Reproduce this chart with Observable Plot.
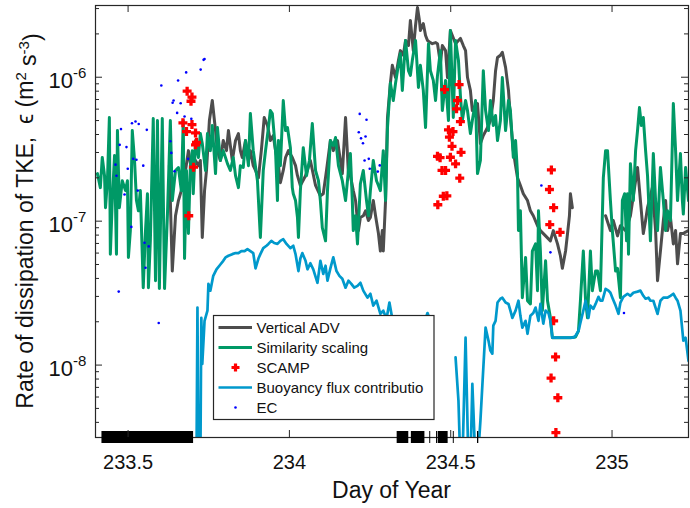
<!DOCTYPE html>
<html>
<head>
<meta charset="utf-8">
<script src="https://cdn.jsdelivr.net/npm/d3@7"></script>
<script src="https://cdn.jsdelivr.net/npm/@observablehq/plot@0.6"></script>
<style>
  html, body { margin: 0; padding: 0; background: #fff; }
  #chart svg { display: block; }
</style>
</head>
<body>
<div id="chart"></div>
<script>
// Dissipation rate of TKE, epsilon (m^2 s^-3), against day of year.
// Each series is a list of [day, epsilon]; null marks a gap in a line.

const verticalADV = [
  [233.628,2.43e-7],[233.637,4.5e-8],[233.647,1.09e-7],[233.656,1.39e-7],[233.665,1.63e-7],[233.678,2.25e-7],
  [233.687,3.09e-7],[233.699,2.07e-7],[233.709,2.64e-7],[233.718,2.43e-7],[233.724,2.64e-7],[233.730,7.7e-8],
  [233.737,1.63e-7],[233.743,2.25e-7],[233.752,5.0e-7],[233.761,6.89e-7],[233.771,4.26e-7],[233.777,3.09e-7],
  [233.786,2.64e-7],[233.795,3.63e-7],[233.805,3.09e-7],[233.811,4.26e-7],[233.817,3.35e-7],[233.823,2.64e-7],
  [233.833,3.63e-7],[233.842,4.06e-7],[233.848,3.09e-7],[233.854,2.77e-7],[233.864,3.63e-7],[233.873,2.64e-7],
  [233.879,3.09e-7],[233.888,2.43e-7],[233.895,2.25e-7],[233.904,2.0e-7],[233.913,3.09e-7],[233.922,5.25e-7],
  [233.932,4.62e-7],[233.941,3.63e-7],[233.950,3.93e-7],[233.957,3.09e-7],[233.966,2.43e-7],[233.972,1.85e-7],
  [233.981,2.25e-7],[233.988,2.77e-7],[233.997,3.09e-7],[234.009,2.77e-7],[234.019,2.43e-7],[234.025,2.07e-7],
  [234.034,1.77e-7],[234.050,2.07e-7],[234.065,2.64e-7],[234.081,1.77e-7],[234.096,1.50e-7],[234.105,1.55e-7],
  [234.115,2.25e-7],[234.127,3.63e-7],[234.136,3.09e-7],[234.149,3.63e-7],[234.158,2.64e-7],[234.164,2.14e-7],
  [234.174,5.25e-7],[234.183,2.14e-7],[234.189,2.07e-7],[234.198,1.63e-7],[234.205,1.39e-7],[234.214,8.6e-8],
  [234.220,1.06e-7],[234.229,1.09e-7],[234.236,1.18e-7],[234.245,1.01e-7],[234.251,1.06e-7],[234.260,1.39e-7],
  [234.267,1.09e-7],[234.276,8.2e-8],[234.282,6.2e-8],[234.288,8.6e-8],[234.291,6.2e-8],[234.298,1.39e-7],
  [234.304,5.25e-7],[234.313,9.1e-7],[234.319,1.21e-6],[234.329,9.95e-7],[234.338,1.31e-6],[234.344,1.53e-6],
  [234.353,1.42e-6],[234.360,1.80e-6],[234.369,1.66e-6],[234.375,2.48e-6],[234.384,1.53e-6],[234.391,2.29e-6],
  [234.397,3.05e-6],[234.403,2.48e-6],[234.406,2.11e-6],[234.415,2.36e-6],[234.422,1.95e-6],[234.428,1.80e-6],
  [234.437,1.74e-6],[234.443,1.71e-6],[234.453,1.74e-6],[234.459,1.71e-6],[234.468,1.25e-6],[234.474,1.66e-6],
  [234.484,1.53e-6],[234.490,9.95e-7],[234.499,2.11e-6],[234.505,1.95e-6],[234.515,1.71e-6],[234.524,1.80e-6],
  [234.530,1.86e-6],[234.539,1.66e-6],[234.546,1.53e-6],[234.552,9.95e-7],[234.561,8.1e-7],[234.567,5.87e-7],
  [234.577,6.36e-7],[234.583,6.57e-7],[234.592,3.46e-7],[234.601,3.93e-7],[234.614,4.47e-7],[234.623,5.0e-7],
  [234.632,6.89e-7],[234.639,1.11e-6],[234.645,1.37e-6],[234.654,1.42e-6],[234.660,1.49e-6],[234.670,1.17e-6],
  [234.679,8.1e-7],[234.685,5.25e-7],[234.694,3.09e-7],[234.701,2.43e-7],[234.707,2.0e-7],[234.716,1.77e-7],
  [234.725,1.55e-7],[234.738,1.39e-7],[234.747,1.18e-7],[234.756,1.09e-7],[234.769,9.3e-8],[234.778,8.6e-8],
  [234.794,7.9e-8],[234.809,7.3e-8],[234.818,8.6e-8],[234.831,6.95e-8],[234.840,5.75e-8],[234.846,4.7e-8],
  [234.856,6.2e-8],[234.862,8.2e-8],[234.868,1.09e-7],[234.871,1.55e-7],[234.877,1.24e-7],[234.880,null],
  [234.980,1.09e-7],[234.995,8.6e-8],[235.004,1.01e-7],[235.017,7.9e-8],[235.026,9.3e-8],[235.042,8.6e-8],
  [235.057,1.09e-7],[235.073,1.91e-7],[235.079,2.36e-7],[235.088,1.39e-7],[235.097,8.2e-8],[235.104,1.01e-7],
  [235.110,1.24e-7],[235.119,1.50e-7],[235.125,1.71e-7],[235.135,8.6e-8],[235.141,3.86e-8],[235.150,6.2e-8],
  [235.159,1.01e-7],[235.166,1.39e-7],[235.172,8.6e-8],[235.181,1.06e-7],[235.190,6.95e-8],[235.197,8.6e-8],
  [235.203,5.05e-8],[235.212,8.2e-8],[235.221,8.2e-8],[235.228,8.4e-8],[235.237,8.6e-8]
];

const similarityScaling = [
  [233.405,2.14e-7],[233.414,1.71e-7],[233.420,2.77e-7],[233.427,2.07e-7],[233.430,1.24e-7],[233.436,1.91e-7],
  [233.442,5.25e-7],[233.445,5.9e-8],[233.451,1.39e-7],[233.458,2.86e-7],[233.464,5.9e-8],[233.467,4.26e-7],
  [233.473,1.24e-7],[233.482,1.91e-7],[233.492,1.63e-7],[233.498,1.91e-7],[233.501,5.6e-8],[233.507,8.6e-8],
  [233.513,4.26e-7],[233.520,2.64e-7],[233.526,1.39e-7],[233.532,1.18e-7],[233.538,1.63e-7],[233.547,3.45e-8],
  [233.554,8.6e-8],[233.560,1.55e-7],[233.563,3.45e-8],[233.569,7.3e-8],[233.578,5.17e-7],[233.585,3.86e-8],
  [233.591,5.0e-7],[233.597,3.4e-8],[233.606,5.17e-7],[233.613,3.4e-8],[233.622,1.12e-7],[233.631,5.0e-7],
  [233.637,1.39e-7],[233.647,2.25e-7],[233.656,2.36e-7],[233.665,1.63e-7],[233.671,5.0e-7],[233.675,5.5e-8],
  [233.681,2.25e-7],[233.687,8.2e-8],[233.693,2.43e-7],[233.699,3.09e-7],[233.702,1.55e-7],[233.709,3.63e-7],
  [233.718,2.77e-7],[233.724,4.06e-7],[233.730,3.46e-7],[233.740,2.25e-7],[233.746,4.06e-7],[233.755,3.09e-7],
  [233.761,4.62e-7],[233.771,2.14e-7],[233.777,4.47e-7],[233.786,2.64e-7],[233.795,3.09e-7],[233.808,2.51e-7],
  [233.817,2.25e-7],[233.826,2.77e-7],[233.833,2.07e-7],[233.842,1.71e-7],[233.848,2.43e-7],[233.857,2.36e-7],
  [233.864,3.63e-7],[233.873,2.43e-7],[233.879,5.6e-7],[233.888,3.09e-7],[233.901,1.91e-7],[233.910,7.7e-8],
  [233.919,2.25e-7],[233.926,3.09e-7],[233.935,4.47e-7],[233.941,5.87e-7],[233.947,5.6e-7],[233.957,3.09e-7],
  [233.963,1.39e-7],[233.966,3.63e-7],[233.972,2.43e-7],[233.981,6.89e-7],[233.988,4.26e-7],[233.994,4.47e-7],
  [234.003,3.24e-7],[234.009,1.71e-7],[234.012,1.55e-7],[234.019,1.39e-7],[234.025,1.06e-7],[234.028,7.7e-8],
  [234.034,1.63e-7],[234.043,3.24e-7],[234.053,2.07e-7],[234.062,2.64e-7],[234.071,4.77e-7],[234.081,2.25e-7],
  [234.090,1.91e-7],[234.096,1.39e-7],[234.102,9.0e-8],[234.112,7.3e-8],[234.118,1.63e-7],[234.127,3.63e-7],
  [234.136,3.35e-7],[234.143,3.81e-7],[234.152,2.43e-7],[234.164,1.91e-7],[234.174,1.39e-7],[234.183,2.25e-7],
  [234.189,2.95e-7],[234.195,1.39e-7],[234.198,8.6e-8],[234.205,1.09e-7],[234.211,6.95e-8],[234.220,1.82e-7],
  [234.229,2.25e-7],[234.239,1.39e-7],[234.245,1.09e-7],[234.251,1.63e-7],[234.260,2.64e-7],[234.270,1.91e-7],
  [234.276,1.77e-7],[234.282,1.63e-7],[234.291,3.09e-7],[234.298,1.39e-7],[234.304,4.47e-7],[234.313,9.1e-7],
  [234.322,6.89e-7],[234.329,9.1e-7],[234.335,1.11e-6],[234.344,1.46e-6],[234.350,8.1e-7],[234.360,1.80e-6],
  [234.369,1.11e-6],[234.375,1.03e-6],[234.381,1.31e-6],[234.391,1.80e-6],[234.400,8.5e-7],[234.406,1.21e-6],
  [234.415,8.1e-7],[234.422,4.47e-7],[234.431,1.71e-6],[234.437,1.11e-6],[234.446,9.5e-7],[234.453,6.89e-7],
  [234.459,1.03e-6],[234.468,1.53e-6],[234.474,5.87e-7],[234.484,9.5e-7],[234.493,5.0e-7],[234.499,2.11e-6],
  [234.508,5.25e-7],[234.515,1.80e-6],[234.524,1.31e-6],[234.530,7.46e-7],[234.536,5.0e-7],[234.546,6.89e-7],
  [234.552,5.87e-7],[234.561,4.06e-7],[234.567,5.0e-7],[234.577,6.89e-7],[234.583,2.14e-7],[234.592,2.64e-7],
  [234.601,1.11e-6],[234.608,5.87e-7],[234.617,4.26e-7],[234.623,6.89e-7],[234.632,4.62e-7],[234.639,5.42e-7],
  [234.645,3.63e-7],[234.654,5.0e-7],[234.660,9.95e-7],[234.670,4.26e-7],[234.679,6.89e-7],[234.685,5.87e-7],
  [234.694,2.77e-7],[234.701,3.63e-7],[234.707,2.14e-7],[234.710,8.6e-8],[234.716,1.18e-7],[234.722,2.94e-8],
  [234.732,5.6e-8],[234.738,2.8e-8],[234.747,2.66e-8],[234.753,6.2e-8],[234.763,6.95e-8],[234.769,3.29e-8],
  [234.772,1.18e-7],[234.778,6.2e-8],[234.784,2.39e-8],[234.794,5.3e-8],[234.800,2.8e-8],[234.809,2.13e-8],
  [234.815,1.55e-8],[234.825,1.55e-8],[234.840,1.55e-8],[234.856,1.55e-8],[234.871,1.55e-8],[234.887,1.57e-8],
  [234.896,1.73e-8],[234.902,2.8e-8],[234.911,6.2e-8],[234.918,2.8e-8],[234.924,2.13e-8],[234.933,6.2e-8],
  [234.939,3.29e-8],[234.949,4.5e-8],[234.955,4.5e-8],[234.964,3.29e-8],[234.973,2.0e-7],[234.980,3.09e-7],
  [234.986,3.09e-7],[234.995,1.39e-7],[235.001,8.6e-8],[235.011,4.5e-8],[235.017,4.7e-8],[235.026,2.94e-8],
  [235.032,1.39e-7],[235.039,1.55e-7],[235.045,7.3e-8],[235.048,1.55e-7],[235.051,5.9e-8],[235.057,2.51e-7],
  [235.066,1.39e-7],[235.073,3.09e-7],[235.079,4.26e-7],[235.085,6.15e-7],[235.091,4.62e-7],[235.097,5.25e-7],
  [235.104,3.09e-7],[235.110,2.07e-7],[235.119,7.3e-8],[235.128,2.95e-7],[235.135,1.39e-7],[235.141,8.6e-8],
  [235.150,2.36e-7],[235.159,1.39e-7],[235.166,8.6e-8],[235.172,1.18e-7],[235.181,1.01e-7],[235.190,6.57e-7],
  [235.197,3.09e-7],[235.203,1.39e-7],[235.212,2.95e-7],[235.218,1.39e-7],[235.221,1.12e-7],[235.228,2.36e-7],
  [235.237,1.39e-7]
];

const scamp = [
  [233.683,8.0e-7],[233.698,7.28e-7],[233.695,6.81e-7],[233.670,4.82e-7],[233.698,4.69e-7],[233.681,4.19e-7],
  [233.709,4.10e-7],[233.712,3.53e-7],[233.709,3.39e-7],[233.703,2.37e-7],[233.688,1.09e-7],
  [234.481,8.21e-7],[234.526,8.89e-7],[234.521,6.89e-7],[234.518,6.03e-7],[234.530,4.92e-7],[234.493,4.31e-7],
  [234.507,4.19e-7],[234.496,3.83e-7],[234.504,3.31e-7],[234.532,3.01e-7],[234.459,2.82e-7],[234.467,2.76e-7],
  [234.499,2.78e-7],[234.515,2.50e-7],[234.473,2.25e-7],[234.484,2.25e-7],[234.528,1.99e-7],[234.488,1.50e-7],
  [234.477,1.49e-7],[234.460,1.30e-7],
  [234.812,2.27e-7],[234.806,1.66e-7],[234.819,1.24e-7],[234.807,9.46e-8],[234.839,8.36e-8],[234.819,2.03e-8],
  [234.825,1.14e-8],[234.811,8.13e-9],[234.832,5.93e-9],[234.826,3.40e-9]
];

const buoyancyFlux = [
  [233.712,2e-9],[233.715,2.51e-8],[233.718,2e-9],[233.724,2e-9],[233.727,2.13e-8],[233.730,1.02e-8],
  [233.737,2.03e-8],[233.746,2.39e-8],[233.749,3.67e-8],[233.755,3.29e-8],[233.764,4.17e-8],[233.774,4.63e-8],
  [233.786,5.0e-8],[233.795,5.3e-8],[233.802,5.6e-8],[233.811,5.75e-8],[233.823,5.9e-8],[233.833,6.0e-8],
  [233.842,6.0e-8],[233.851,6.2e-8],[233.861,6.2e-8],[233.870,6.4e-8],[233.879,6.2e-8],[233.888,6.0e-8],
  [233.895,4.7e-8],[233.904,5.5e-8],[233.910,5.9e-8],[233.919,6.5e-8],[233.929,6.75e-8],[233.935,6.95e-8],
  [233.944,7.3e-8],[233.953,7.05e-8],[233.963,6.95e-8],[233.972,7.3e-8],[233.981,7.5e-8],[233.991,6.95e-8],
  [234.003,6.5e-8],[234.012,6.75e-8],[234.019,5.9e-8],[234.028,4.5e-8],[234.034,5.5e-8],[234.040,6.0e-8],
  [234.050,5.3e-8],[234.056,4.63e-8],[234.065,5.1e-8],[234.074,4.63e-8],[234.087,3.73e-8],[234.096,5.3e-8],
  [234.105,4.3e-8],[234.112,4.9e-8],[234.118,3.86e-8],[234.127,4.7e-8],[234.136,5.6e-8],[234.146,4.5e-8],
  [234.155,4.17e-8],[234.164,3.98e-8],[234.174,3.45e-8],[234.183,3.86e-8],[234.192,3.67e-8],[234.201,3.45e-8],
  [234.211,3.55e-8],[234.220,3.73e-8],[234.229,3.29e-8],[234.242,2.94e-8],[234.251,3.13e-8],[234.260,2.59e-8],
  [234.270,2.8e-8],[234.282,2.27e-8],[234.291,2.39e-8],[234.301,2.1e-8],[234.310,2.72e-8],[234.319,2.1e-8],
  [234.329,1.97e-8],[234.344,1.88e-8],[234.360,1.73e-8],[234.375,1.78e-8],[234.391,1.88e-8],[234.406,1.97e-8],
  [234.422,2.1e-8],[234.428,2.3e-8],[234.437,2.03e-8],[234.446,null],
  [234.515,1.13e-8],[234.524,5.65e-9],[234.530,2e-9],[234.536,2e-9],[234.546,1.55e-8],[234.555,2e-9],
  [234.561,2e-9],[234.567,7.4e-9],[234.577,2e-9],[234.583,2e-9],[234.592,4.1e-9],[234.598,7.2e-9],
  [234.608,1.82e-8],[234.617,1.48e-8],[234.623,1.26e-8],[234.629,1.2e-8],[234.632,1.88e-8],[234.639,2.03e-8],
  [234.645,2.72e-8],[234.654,2.89e-8],[234.660,2.94e-8],[234.670,2.72e-8],[234.679,2.66e-8],[234.685,2.39e-8],
  [234.691,2.13e-8],[234.701,2.39e-8],[234.710,2.8e-8],[234.716,2.2e-8],[234.722,1.82e-8],[234.732,2.03e-8],
  [234.738,1.65e-8],[234.747,2.2e-8],[234.756,2.3e-8],[234.763,2.51e-8],[234.772,2.03e-8],[234.778,2.66e-8],
  [234.787,1.94e-8],[234.794,2.39e-8],[234.803,2.3e-8],[234.809,2.03e-8],[234.815,1.55e-8],[234.825,1.55e-8],
  [234.840,1.55e-8],[234.856,1.55e-8],[234.871,1.55e-8],[234.880,1.55e-8],[234.887,1.6e-8],[234.896,1.73e-8],
  [234.902,1.97e-8],[234.911,2.39e-8],[234.918,2.8e-8],[234.927,2.13e-8],[234.933,2.59e-8],[234.942,2.46e-8],
  [234.949,2.66e-8],[234.958,2.98e-8],[234.964,2.8e-8],[234.970,2.8e-8],[234.980,3.39e-8],[234.989,3.29e-8],
  [234.995,3.18e-8],[235.001,2.94e-8],[235.011,2.59e-8],[235.020,2.27e-8],[235.026,2.72e-8],[235.035,2.98e-8],
  [235.048,3.13e-8],[235.057,3.03e-8],[235.066,3.18e-8],[235.079,3.24e-8],[235.088,3.29e-8],[235.097,3.03e-8],
  [235.104,2.89e-8],[235.113,2.94e-8],[235.119,2.8e-8],[235.128,2.8e-8],[235.141,2.27e-8],[235.150,2.8e-8],
  [235.159,2.94e-8],[235.172,2.94e-8],[235.181,3.03e-8],[235.190,3.13e-8],[235.197,2.94e-8],[235.203,2.8e-8],
  [235.212,2.39e-8],[235.221,1.48e-8],[235.228,1.55e-8],[235.237,1.07e-8]
];

const eddyCovariance = [
  [233.737,1.34e-6],[233.734,1.32e-6],[233.725,1.13e-6],[233.680,1.08e-6],[233.655,9.48e-7],[233.603,8.75e-7],
  [233.641,6.89e-7],[233.638,6.64e-7],[233.663,6.59e-7],[233.652,5.65e-7],[233.675,5.33e-7],[233.696,5.14e-7],
  [233.523,4.92e-7],[233.512,4.79e-7],[233.533,4.73e-7],[233.478,4.36e-7],[233.558,4.31e-7],[233.631,3.59e-7],
  [233.474,3.39e-7],[233.495,3.27e-7],[233.634,2.98e-7],[233.516,2.71e-7],[233.526,2.67e-7],[233.686,2.71e-7],
  [233.461,2.47e-7],[233.547,2.43e-7],[233.499,2.31e-7],[233.644,2.22e-7],[233.464,2.07e-7],[233.530,1.63e-7],
  [233.489,1.53e-7],[233.510,9.12e-8],[233.551,7.08e-8],[233.564,6.68e-8],[233.554,4.75e-8],[233.471,3.24e-8],
  [233.595,1.96e-8],
  [234.218,5.56e-7],[234.239,5.06e-7],[234.215,4.15e-7],[234.236,3.87e-7],[234.222,3.76e-7],[234.228,3.48e-7],
  [234.233,2.64e-7],[234.246,2.71e-7],[234.249,2.31e-7],[234.280,2.44e-7],[234.274,2.21e-7],
  [234.781,1.77e-7],[234.809,6.07e-8],[235.037,2.30e-8]
];

// Black bars along the time axis (start and end day of each).
const barStart = [233.419, 234.334, 234.378, 234.435, 234.456, 234.461, 234.508, 234.583];
const barEnd   = [233.703, 234.370, 234.420, 234.438, 234.459, 234.492, 234.511, 234.587];

const seriesNames = ["Vertical ADV", "Similarity scaling", "SCAMP", "Buoyancy flux contributio", "EC"];
const xTicks = [233.5, 234, 234.5, 235];
const yMajorTicks = [1e-8, 1e-7, 1e-6];

const xDomain = [233.399, 235.237];
const yDomain = [3.14e-9, 3.15e-6];

const W = 690, H = 508;
const M = {left: 95, right: 2, top: 5, bottom: 71};
const frameW = W - M.left - M.right, frameH = H - M.top - M.bottom;
const FONT = "'Liberation Sans', Arial, Helvetica, sans-serif";
const INK = "#262626";
const C = {adv: "#4d4d4d", sim: "#009966", scamp: "#ff0000", buoy: "#0099cc", ec: "#0000ff"};

const yMinorTicks = [];
for (let e = -9; e <= -6; e++) for (let m = 2; m <= 9; m++) {
  const v = m * Math.pow(10, e);
  if (v >= yDomain[0] && v <= yDomain[1]) yMinorTicks.push(v);
}

const rows = (list) => list.map(([day, eps]) => ({day, eps}));
const bars = barStart.map((s, i) => ({start: s, end: barEnd[i]}));

const chart = Plot.plot({
  width: W, height: H,
  marginLeft: M.left, marginRight: M.right, marginTop: M.top, marginBottom: M.bottom,
  style: {fontFamily: FONT, background: "#fff", color: INK},
  x: {domain: xDomain, axis: null},
  y: {type: "log", domain: yDomain, axis: null},
  marks: [
    Plot.line(rows(verticalADV), {x: "day", y: "eps", stroke: C.adv, strokeWidth: 3, strokeLinejoin: "round", clip: true}),
    Plot.line(rows(similarityScaling), {x: "day", y: "eps", stroke: C.sim, strokeWidth: 3, strokeLinejoin: "round", clip: true}),
    Plot.dot(rows(scamp), {x: "day", y: "eps", symbol: "plus", r: 3, stroke: C.scamp, strokeWidth: 3.3, clip: true}),
    Plot.line(rows(buoyancyFlux), {x: "day", y: "eps", stroke: C.buoy, strokeWidth: 2.7, strokeLinejoin: "round", clip: true}),
    Plot.dot(rows(eddyCovariance), {x: "day", y: "eps", r: 1.3, fill: C.ec, stroke: null, clip: true}),

    Plot.frame({stroke: INK, strokeWidth: 1.2}),
    Plot.rect(bars, {x1: "start", x2: "end", fill: "#000", insetTop: frameH - 6, insetBottom: -6}),

    // inward ticks on all four sides
    Plot.tickX(xTicks, {x: d => d, stroke: INK, insetTop: frameH - 7}),
    Plot.tickX(xTicks, {x: d => d, stroke: INK, insetBottom: frameH - 7}),
    Plot.tickY(yMajorTicks, {y: d => d, stroke: INK, insetRight: frameW - 7}),
    Plot.tickY(yMajorTicks, {y: d => d, stroke: INK, insetLeft: frameW - 7}),
    Plot.tickY(yMinorTicks, {y: d => d, stroke: INK, insetRight: frameW - 4}),
    Plot.tickY(yMinorTicks, {y: d => d, stroke: INK, insetLeft: frameW - 4}),

    // tick labels
    Plot.text(xTicks, {x: d => d, frameAnchor: "bottom", text: d => String(d), lineAnchor: "bottom",
      dy: 31, fontSize: 20, fill: "#111"}),
    Plot.text(yMajorTicks, {y: d => d, frameAnchor: "left", text: () => "10", textAnchor: "end",
      lineAnchor: "bottom", dx: -22.5, dy: 11, fontSize: 22, fill: "#111"}),
    Plot.text(yMajorTicks, {y: d => d, frameAnchor: "left", text: d => String(Math.round(Math.log10(d))),
      textAnchor: "start", lineAnchor: "bottom", dx: -22.5, dy: 1, fontSize: 15, fill: "#111"})
  ]
});

document.getElementById("chart").appendChild(chart);

// Axis titles and legend
const svg = d3.select(chart);

svg.append("text")
  .attr("x", M.left + frameW / 2).attr("y", 498)
  .attr("text-anchor", "middle")
  .attr("font-family", FONT).attr("font-size", 23).attr("fill", "#111")
  .text("Day of Year");

const yl = svg.append("text")
  .attr("transform", `translate(32.5,${M.top + frameH / 2}) rotate(-90)`)
  .attr("text-anchor", "middle")
  .attr("font-family", FONT).attr("font-size", 23).attr("fill", "#111");
yl.append("tspan").text("Rate of dissipation of TKE,\u00a0\u00a0\u03f5 (m");
yl.append("tspan").attr("dy", "-0.45em").attr("font-size", 15).text("2");
yl.append("tspan").attr("dy", "0.45em").text("\u00a0s");
yl.append("tspan").attr("dy", "-0.45em").attr("font-size", 15).text("-3");
yl.append("tspan").attr("dy", "0.45em").text(")");

const legend = svg.append("g")
  .attr("font-family", FONT).attr("font-size", 15).attr("text-anchor", "start");
legend.append("rect")
  .attr("x", 213.5).attr("y", 315.5).attr("width", 220.5).attr("height", 104)
  .attr("fill", "#fff").attr("stroke", INK).attr("stroke-width", 1.2);

const kinds = [
  {type: "line", color: C.adv, width: 3},
  {type: "line", color: C.sim, width: 3},
  {type: "plus", color: C.scamp},
  {type: "line", color: C.buoy, width: 2.7},
  {type: "dot", color: C.ec}
];
seriesNames.forEach((name, i) => {
  const cy = 327.5 + i * 20;
  const k = kinds[i];
  if (k.type === "line") {
    legend.append("line").attr("x1", 218.5).attr("x2", 252).attr("y1", cy).attr("y2", cy)
      .attr("stroke", k.color).attr("stroke-width", k.width);
  } else if (k.type === "plus") {
    legend.append("path").attr("d", `M231.5,${cy}H239.5M235.5,${cy - 4}V${cy + 4}`)
      .attr("stroke", k.color).attr("stroke-width", 3.2).attr("fill", "none");
  } else {
    legend.append("circle").attr("cx", 235.5).attr("cy", cy).attr("r", 1.3).attr("fill", k.color);
  }
  legend.append("text").attr("x", 256.5).attr("y", cy + 5.5)
    .attr("text-anchor", "start").attr("fill", "#111").text(name);
});
</script>
</body>
</html>
